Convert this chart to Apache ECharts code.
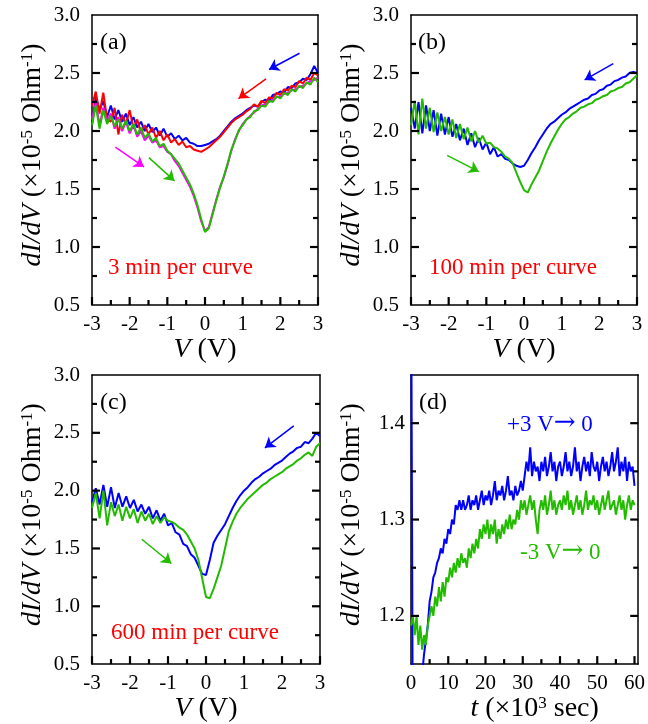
<!doctype html>
<html>
<head>
<meta charset="utf-8">
<title>dI/dV</title>
<script src="https://cdn.jsdelivr.net/npm/echarts@6/dist/echarts.min.js"></script>
</head>
<body style="margin:0;padding:0;background:#fff">
<div id="tb" style="width:648px;height:724px;"></div>
<script>
// voltage sweep -3..3 V, step 0.1 V ; time axis 0..60 (x10^3 s), step 0.5
var volts = [];
for (var i = 0; i <= 60; i++) volts.push(+(-3 + i * 0.1).toFixed(1));
var times = [];
for (var j = 0; j <= 120; j++) times.push(j * 0.5);

// (a) 3 min per curve
var aBlue = [2.05,2.30,2.18,2.26,2.12,2.22,2.10,2.18,2.08,2.15,
  2.05,2.12,2.03,2.08,2.00,2.06,1.99,2.03,1.96,2.02,
  1.95,1.98,1.93,1.96,1.92,1.94,1.90,1.89,1.87,1.87,
  1.88,1.89,1.91,1.93,1.96,2.00,2.04,2.08,2.11,2.13,
  2.15,2.18,2.20,2.22,2.21,2.25,2.27,2.26,2.31,2.32,
  2.34,2.33,2.38,2.37,2.41,2.42,2.45,2.44,2.49,2.56,
  2.50];
var aRed = [2.22,2.34,2.15,2.33,2.10,2.08,2.20,1.97,2.14,2.06,
  2.18,2.02,2.10,1.98,2.05,1.97,2.03,1.94,2.00,1.92,
  1.97,1.90,1.93,1.88,1.91,1.86,1.87,1.84,1.83,1.82,
  1.84,1.86,1.89,1.92,1.95,1.99,2.03,2.07,2.10,2.12,
  2.14,2.17,2.19,2.23,2.21,2.26,2.24,2.29,2.28,2.33,
  2.31,2.36,2.35,2.39,2.38,2.43,2.41,2.46,2.44,2.50,
  2.48];
var aMagenta = [2.10,2.25,2.05,2.20,2.08,2.15,2.02,2.12,2.00,2.08,
  1.98,2.05,1.95,2.00,1.92,1.96,1.90,1.92,1.86,1.87,
  1.82,1.80,1.74,1.70,1.64,1.58,1.52,1.44,1.34,1.22,
  1.14,1.17,1.29,1.41,1.52,1.60,1.71,1.83,1.93,2.00,
  2.06,2.10,2.13,2.16,2.19,2.22,2.23,2.25,2.27,2.29,
  2.30,2.32,2.33,2.35,2.36,2.38,2.39,2.41,2.43,2.44,
  2.46];
var aGreen = [2.05,2.22,2.02,2.18,2.06,2.13,2.04,2.10,2.02,2.09,
  2.00,2.06,1.97,2.03,1.94,1.98,1.91,1.94,1.87,1.89,
  1.83,1.80,1.76,1.72,1.66,1.60,1.54,1.46,1.36,1.24,
  1.13,1.16,1.28,1.40,1.51,1.61,1.72,1.84,1.92,2.01,
  2.05,2.10,2.12,2.17,2.18,2.22,2.21,2.26,2.25,2.30,
  2.28,2.33,2.31,2.36,2.34,2.39,2.37,2.42,2.40,2.46,
  2.42];

// (b) 100 min per curve
var bBlue = [2.20,2.02,2.25,1.98,2.22,2.00,2.18,1.96,2.15,1.97,
  2.12,1.95,2.06,1.92,2.02,1.88,1.98,1.86,1.94,1.84,
  1.90,1.80,1.86,1.78,1.80,1.76,1.75,1.72,1.70,1.69,
  1.70,1.75,1.81,1.86,1.92,1.97,2.02,2.06,2.08,2.11,
  2.14,2.16,2.19,2.21,2.23,2.25,2.27,2.28,2.31,2.32,
  2.35,2.36,2.39,2.40,2.43,2.44,2.46,2.47,2.50,2.51,
  2.50];
var bGreen = [2.05,2.26,1.97,2.28,2.02,2.20,1.99,2.16,2.00,2.12,
  1.97,2.10,1.94,2.06,1.93,2.03,1.91,2.00,1.90,1.96,
  1.89,1.90,1.86,1.85,1.82,1.78,1.76,1.72,1.64,1.56,
  1.49,1.47,1.54,1.60,1.66,1.74,1.82,1.89,1.95,2.01,
  2.06,2.10,2.12,2.15,2.17,2.20,2.21,2.23,2.24,2.27,
  2.28,2.30,2.31,2.34,2.35,2.37,2.38,2.41,2.42,2.45,
  2.48];

// (c) 600 min per curve
var cBlue = [1.90,2.02,1.88,2.05,1.86,2.03,1.85,1.98,1.86,1.95,
  1.85,1.92,1.82,1.88,1.80,1.86,1.76,1.83,1.74,1.80,
  1.70,1.72,1.64,1.62,1.54,1.52,1.45,1.42,1.35,1.28,
  1.27,1.40,1.55,1.61,1.66,1.71,1.78,1.85,1.91,1.96,
  2.00,2.03,2.07,2.10,2.12,2.15,2.17,2.19,2.22,2.24,
  2.26,2.29,2.32,2.34,2.37,2.38,2.42,2.41,2.45,2.50,
  2.47];
var cGreen = [1.85,1.98,1.76,2.00,1.70,1.90,1.78,1.88,1.74,1.86,
  1.76,1.84,1.72,1.82,1.74,1.80,1.71,1.78,1.72,1.77,
  1.74,1.73,1.71,1.68,1.66,1.62,1.56,1.50,1.40,1.24,
  1.08,1.07,1.15,1.25,1.35,1.50,1.65,1.73,1.80,1.85,
  1.89,1.93,1.96,1.99,2.02,2.05,2.07,2.10,2.12,2.14,
  2.16,2.19,2.21,2.23,2.26,2.28,2.31,2.33,2.30,2.38,
  2.41];

// (d) relaxation at 0 V after +3 V (blue) and -3 V (green)
var dBlue = [1.60,1.05,1.06,1.08,1.10,1.12,1.14,1.16,1.175,1.19,
  1.215,1.225,1.24,1.245,1.255,1.26,1.27,1.265,1.28,1.275,
  1.29,1.285,1.30,1.295,1.315,1.31,1.32,1.31,1.32,1.31,
  1.315,1.325,1.31,1.32,1.315,1.325,1.31,1.32,1.33,1.315,
  1.325,1.32,1.33,1.315,1.325,1.34,1.32,1.33,1.325,1.335,
  1.32,1.33,1.345,1.325,1.33,1.32,1.335,1.325,1.33,1.34,
  1.33,1.345,1.36,1.35,1.375,1.345,1.36,1.35,1.355,1.34,
  1.36,1.35,1.365,1.345,1.355,1.37,1.35,1.36,1.34,1.355,
  1.36,1.345,1.355,1.37,1.35,1.36,1.345,1.355,1.375,1.35,
  1.36,1.34,1.355,1.365,1.35,1.36,1.345,1.37,1.355,1.35,
  1.36,1.34,1.355,1.365,1.35,1.36,1.345,1.355,1.37,1.35,
  1.36,1.375,1.345,1.36,1.35,1.365,1.34,1.36,1.35,1.355,
  1.335];
var dGreen = [1.19,1.20,1.18,1.20,1.17,1.19,1.165,1.18,1.17,1.19,
  1.20,1.21,1.20,1.22,1.21,1.23,1.215,1.235,1.22,1.24,
  1.235,1.25,1.24,1.255,1.245,1.26,1.25,1.265,1.255,1.26,
  1.25,1.27,1.26,1.275,1.265,1.28,1.27,1.29,1.28,1.295,
  1.285,1.30,1.28,1.295,1.285,1.30,1.275,1.29,1.28,1.295,
  1.285,1.30,1.29,1.305,1.29,1.30,1.295,1.31,1.30,1.32,
  1.31,1.32,1.305,1.315,1.325,1.31,1.32,1.30,1.285,1.31,
  1.32,1.31,1.325,1.305,1.315,1.33,1.31,1.32,1.305,1.315,
  1.32,1.31,1.325,1.315,1.33,1.31,1.32,1.305,1.315,1.325,
  1.31,1.32,1.305,1.315,1.33,1.31,1.32,1.315,1.325,1.31,
  1.32,1.305,1.315,1.325,1.31,1.32,1.33,1.31,1.315,1.32,
  1.305,1.315,1.325,1.31,1.32,1.30,1.315,1.325,1.31,1.32,
  1.315];

// sweep-direction arrows, in data coordinates [colour, from, to]
var arrowsA = [['#0000ff', [2.51, 2.67], [1.70, 2.53]], ['#ff0000', [1.62, 2.45], [0.89, 2.28]],
  ['#ff00ff', [-2.38, 1.86], [-1.62, 1.69]], ['#22bb00', [-1.49, 1.77], [-0.81, 1.57]]];
var arrowsB = [['#0000ff', [2.37, 2.58], [1.61, 2.44]], ['#22bb00', [-2.04, 1.79], [-1.20, 1.65]]];
var arrowsC = [['#0000ff', [2.31, 2.56], [1.55, 2.37]], ['#22bb00', [-1.69, 1.58], [-0.91, 1.37]]];

// tick values (major / minor)
var vMajor = [-3, -2, -1, 0, 1, 2, 3], vMinor = [-2.5, -1.5, -0.5, 0.5, 1.5, 2.5];
var gMajor = [1.0, 1.5, 2.0, 2.5], gMinor = [0.75, 1.25, 1.75, 2.25, 2.75];
var tMajor = [10, 20, 30, 40, 50, 60], tMinor = [5, 15, 25, 35, 45, 55];
var dMajor = [1.2, 1.3, 1.4], dMinor = [1.25, 1.35];

var BLUE = '#0000ff', RED = '#ff0000', MAG = '#ff00ff', GREEN = '#22bb00';
var FONT = 'Liberation Serif';

var bt = document.getElementById('tb');
var chart = echarts.init(bt);

var richName = {
  i: {fontStyle: 'italic', fontSize: 28, fontFamily: FONT, color: '#000'},
  n: {fontSize: 28, fontFamily: FONT, color: '#000'},
  s: {fontSize: 17, fontFamily: FONT, color: '#000', verticalAlign: 'top'}
};
var yName = '{i|dI/dV} {n|(×10}{s|-5}{n| Ohm}{s|-1}{n|)}';

var grids = [
  {left: 92, top: 15, width: 226, height: 290},
  {left: 411, top: 15, width: 226, height: 290},
  {left: 92, top: 375, width: 228, height: 290},
  {left: 411, top: 375, width: 228, height: 290}
];

var xAxes = [], yAxes = [];
var frameLine = {show: true, onZero: false, lineStyle: {color: '#000', width: 1.5}};

function addPanel(g, xr, yr, xName, yMargin, xFmt, yFmt) {
  xAxes.push({
    gridIndex: g, type: 'value', min: xr[0], max: xr[1], interval: xr[2], position: 'bottom',
    axisLine: frameLine, axisTick: {show: false},
    axisLabel: {show: true, color: '#000', fontSize: 21, fontFamily: FONT, margin: 9, showMinLabel: true, showMaxLabel: true, formatter: xFmt},
    splitLine: {show: false},
    name: xName, nameLocation: 'middle', nameGap: 30,
    nameTextStyle: {color: '#000', fontSize: 28, fontFamily: FONT, rich: richName}
  });
  // top edge of the frame
  xAxes.push({
    gridIndex: g, type: 'value', min: xr[0], max: xr[1], interval: xr[2], position: 'top',
    axisLine: frameLine, axisTick: {show: false}, axisLabel: {show: false}, splitLine: {show: false}
  });
  var common = {
    gridIndex: g, type: 'value', min: yr[0], max: yr[1], interval: yr[2],
    axisLine: frameLine, axisTick: {show: false}, splitLine: {show: false}
  };
  yAxes.push(Object.assign({}, common, {
    position: 'left',
    axisLabel: {show: true, color: '#000', fontSize: 21, fontFamily: FONT, margin: yMargin, showMinLabel: true, showMaxLabel: true, formatter: yFmt},
    name: yName, nameLocation: 'middle', nameGap: 45,
    nameTextStyle: {color: '#000', fontSize: 28, fontFamily: FONT, rich: richName, padding: [0, 0, 0, 10]}
  }));
  yAxes.push(Object.assign({}, common, {position: 'right', axisLabel: {show: false}}));
}

var fmtInt = function(v) { return Math.abs(v % 10) < 1e-9 ? String(v) : ''; };
var fmtV = function(v) { return String(v); };
var fmt1 = function(v) { return v.toFixed(1); };
var fmtD = function(v) {
  var k = Math.round(v * 10);
  return Math.abs(v * 10 - k) < 1e-6 ? v.toFixed(1) : '';
};
var vName = '{i|V} {n|(V)}';
addPanel(0, [-3, 3, 1], [0.5, 3.0, 0.5], vName, 12, fmtV, fmt1);
addPanel(1, [-3, 3, 1], [0.5, 3.0, 0.5], vName, 12, fmtV, fmt1);
addPanel(2, [-3, 3, 1], [0.5, 3.0, 0.5], vName, 12, fmtV, fmt1);
addPanel(3, [0, 61, 10], [1.15, 1.45, 0.05], '{i|t} {n|(×10}{s|3}{n| sec)}', 6, fmtInt, fmtD);
xAxes[6].nameTextStyle.padding = [0, 0, 0, 20];

function pairs(xs, ys) {
  return ys.map(function(v, k) { return [xs[k], v]; });
}
function arrowLines(list) {
  return {
    silent: true, symbol: ['none', 'arrow'], symbolSize: 10,
    label: {show: false}, animation: false,
    data: list.map(function(a) {
      return [{coord: a[1], lineStyle: {color: a[0], width: 1.5, type: 'solid'}, itemStyle: {color: a[0]}},
              {coord: a[2], itemStyle: {color: a[0]}}];
    })
  };
}
function line(g, xs, ys, color, arrows) {
  var s = {
    type: 'line', xAxisIndex: 2 * g, yAxisIndex: 2 * g, data: pairs(xs, ys),
    showSymbol: false, symbol: 'none', clip: true, animation: false,
    lineStyle: {color: color, width: 2}, itemStyle: {color: color}
  };
  if (arrows) s.markLine = arrowLines(arrows);
  return s;
}

// inward tick marks on bottom, left and right edges, placed through the panel's scales
function tickSeries(g, xr, yr, xMaj, xMin, yMaj, yMin) {
  var data = [];
  xMaj.forEach(function(v) { data.push([0, v, 8]); });
  xMin.forEach(function(v) { data.push([0, v, 5]); });
  yMaj.forEach(function(v) { data.push([1, v, 8]); });
  yMin.forEach(function(v) { data.push([1, v, 5]); });
  var st = {stroke: '#000', lineWidth: 2.2};
  return {
    type: 'custom', xAxisIndex: 2 * g, yAxisIndex: 2 * g, silent: true, clip: false,
    animation: false, z: 5, data: data,
    renderItem: function(params, api) {
      var kind = api.value(0), v = api.value(1), len = api.value(2);
      if (kind === 0) {
        var p = api.coord([v, yr[0]]);
        return {type: 'line', shape: {x1: p[0], y1: p[1], x2: p[0], y2: p[1] - len}, style: st};
      }
      var a = api.coord([xr[0], v]), b = api.coord([xr[1], v]);
      return {type: 'group', children: [
        {type: 'line', shape: {x1: a[0], y1: a[1], x2: a[0] + len, y2: a[1]}, style: st},
        {type: 'line', shape: {x1: b[0], y1: b[1], x2: b[0] - len, y2: b[1]}, style: st}
      ]};
    }
  };
}

var series = [
  line(0, volts, aBlue, BLUE),
  line(0, volts, aRed, RED),
  line(0, volts, aMagenta, MAG),
  line(0, volts, aGreen, GREEN, arrowsA),
  line(1, volts, bBlue, BLUE),
  line(1, volts, bGreen, GREEN, arrowsB),
  line(2, volts, cBlue, BLUE),
  line(2, volts, cGreen, GREEN, arrowsC),
  line(3, times, dBlue, BLUE),
  line(3, times, dGreen, GREEN),
  tickSeries(0, [-3, 3], [0.5, 3.0], vMajor, vMinor, gMajor, gMinor),
  tickSeries(1, [-3, 3], [0.5, 3.0], vMajor, vMinor, gMajor, gMinor),
  tickSeries(2, [-3, 3], [0.5, 3.0], vMajor, vMinor, gMajor, gMinor),
  tickSeries(3, [0, 61], [1.15, 1.45], tMajor, tMinor, dMajor, dMinor)
];

function txt(x, y, s, color, size) {
  return {type: 'text', x: x, y: y, silent: true, z: 10,
    style: {text: s, fill: color, font: (size || 23) + 'px "Liberation Serif"', textVerticalAlign: 'middle'}};
}
function arrowTxt(x, y, lead, color) {
  return {type: 'text', x: x, y: y, silent: true, z: 10,
    style: {
      text: '{n|' + lead + '}{a|\u2192}{n| 0}', fill: color, textVerticalAlign: 'middle',
      rich: {
        n: {fontSize: 23, fontFamily: FONT, fill: color},
        a: {fontSize: 26, fontFamily: 'DejaVu Serif', fill: color, padding: [0, 0, 4, 0]}
      }
    }};
}

chart.setOption({
  backgroundColor: '#fff',
  animation: false,
  grid: grids,
  xAxis: xAxes,
  yAxis: yAxes,
  series: series,
  graphic: [
    txt(100, 43, '(a)', '#000', 24),
    txt(418, 43, '(b)', '#000', 24),
    txt(100, 403, '(c)', '#000', 24),
    txt(419, 403, '(d)', '#000', 24),
    txt(108, 268, '3 min per curve', RED),
    txt(429, 268, '100 min per curve', RED),
    txt(111, 633, '600 min per curve', RED),
    arrowTxt(507, 425, '+3 V', BLUE),
    arrowTxt(520, 553, '-3 V', GREEN)
  ]
});
</script>
</body>
</html>
